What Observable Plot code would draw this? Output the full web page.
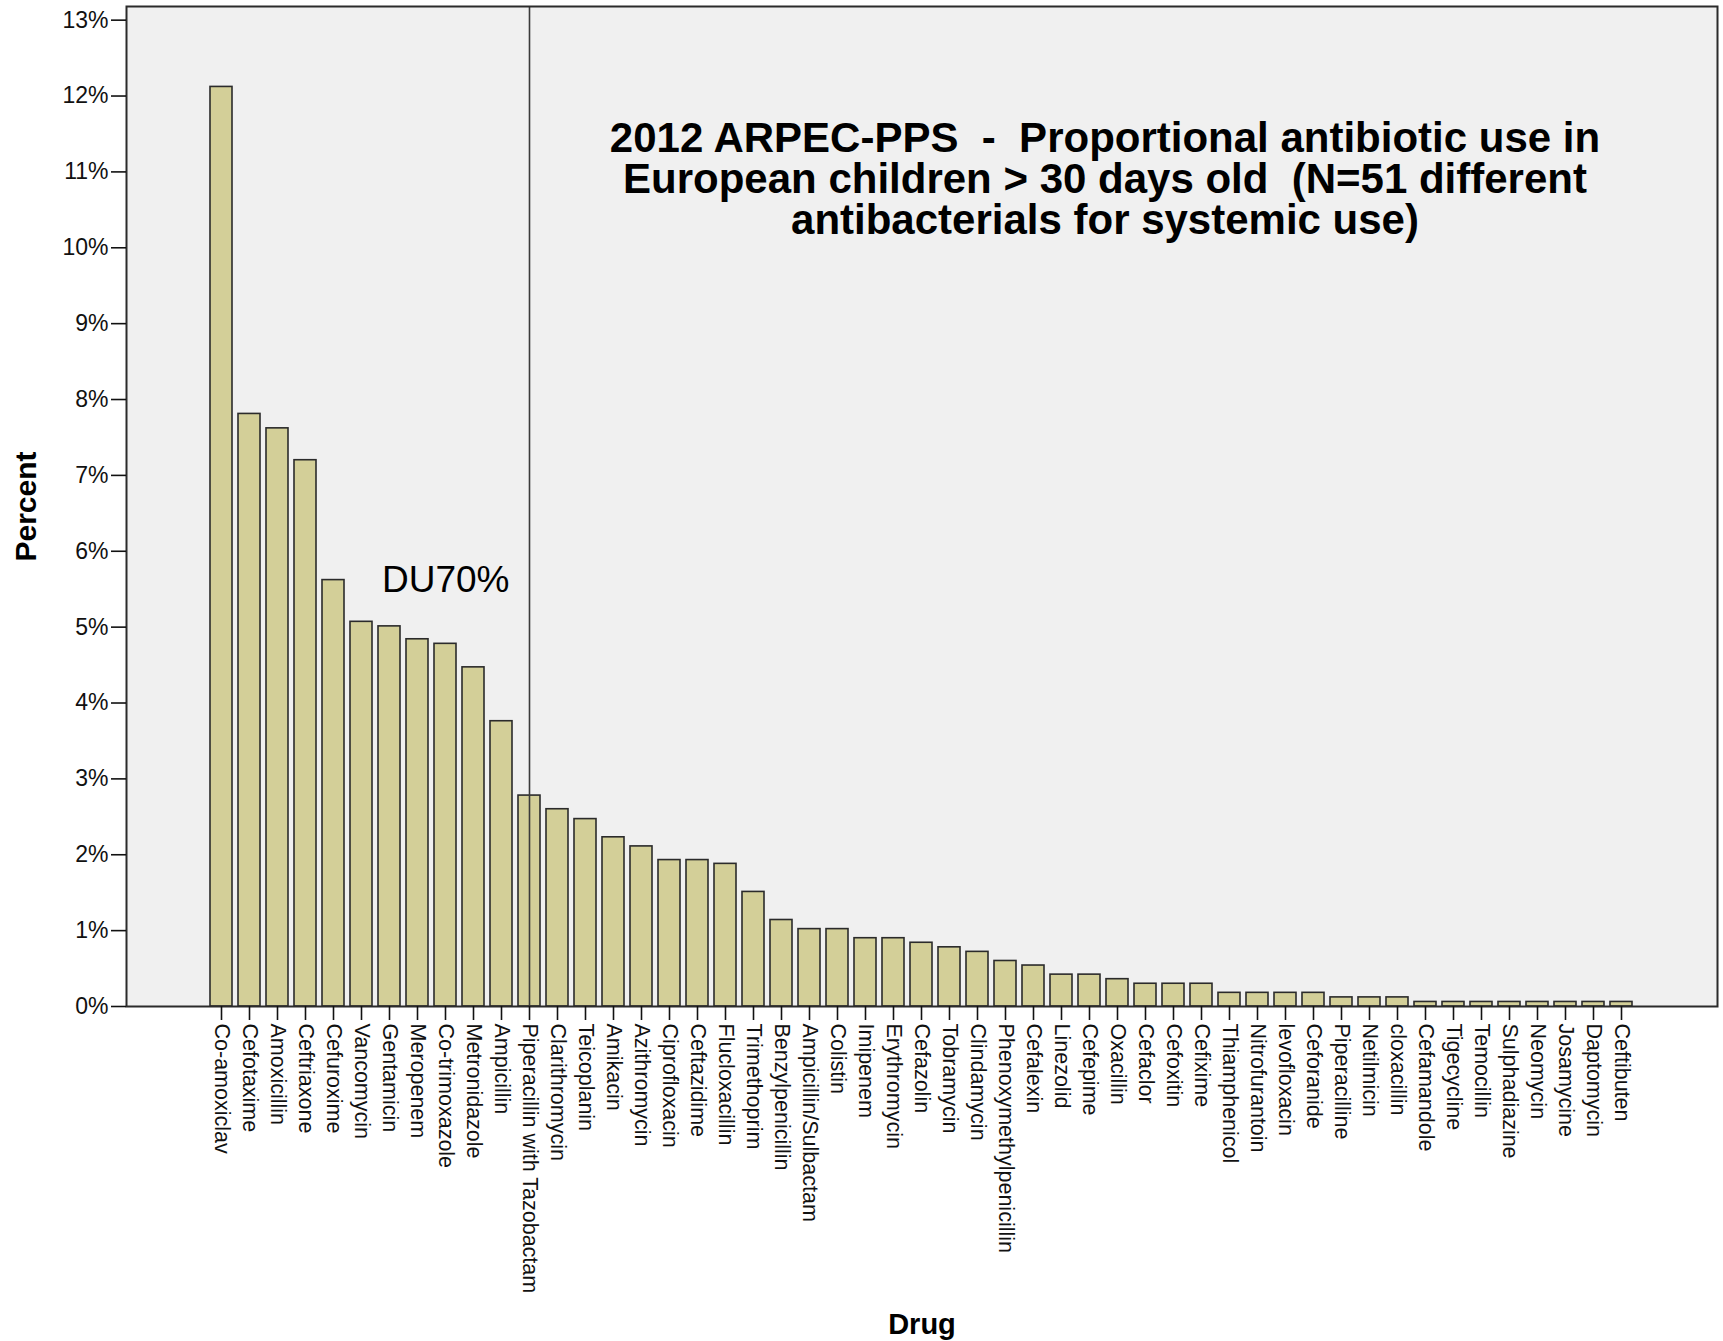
<!DOCTYPE html>
<html>
<head>
<meta charset="utf-8">
<script src="https://cdn.jsdelivr.net/npm/d3@7"></script>
<script src="https://cdn.jsdelivr.net/npm/@observablehq/plot@0.6"></script>
<style>
  html, body { margin: 0; padding: 0; background: #ffffff; }
  #chart { width: 1723px; height: 1341px; }
</style>
</head>
<body>
<div id="chart"></div>
<script>
// Drug names (x categories), in chart order
const drugs = [
  "Co-amoxiclav", "Cefotaxime", "Amoxicillin", "Ceftriaxone", "Cefuroxime",
  "Vancomycin", "Gentamicin", "Meropenem", "Co-trimoxazole", "Metronidazole",
  "Ampicillin", "Piperacillin with Tazobactam", "Clarithromycin", "Teicoplanin", "Amikacin",
  "Azithromycin", "Ciprofloxacin", "Ceftazidime", "Flucloxacillin", "Trimethoprim",
  "Benzylpenicillin", "Ampicillin/Sulbactam", "Colistin", "Imipenem", "Erythromycin",
  "Cefazolin", "Tobramycin", "Clindamycin", "Phenoxymethylpenicillin", "Cefalexin",
  "Linezolid", "Cefepime", "Oxacillin", "Cefaclor", "Cefoxitin",
  "Cefixime", "Thiamphenicol", "Nitrofurantoin", "levofloxacin", "Ceforanide",
  "Piperacilline", "Netilmicin", "cloxacillin", "Cefamandole", "Tigecycline",
  "Temocillin", "Sulphadiazine", "Neomycin", "Josamycine", "Daptomycin",
  "Ceftibuten"
];

// Percent of all antibiotic prescriptions
const percents = [
  12.12, 7.81, 7.62, 7.20, 5.62,
  5.07, 5.01, 4.84, 4.78, 4.47,
  3.76, 2.78, 2.60, 2.47, 2.23,
  2.11, 1.93, 1.93, 1.88, 1.51,
  1.14, 1.02, 1.02, 0.90, 0.90,
  0.84, 0.78, 0.72, 0.60, 0.54,
  0.42, 0.42, 0.36, 0.30, 0.30,
  0.30, 0.18, 0.18, 0.18, 0.18,
  0.12, 0.12, 0.12, 0.06, 0.06,
  0.06, 0.06, 0.06, 0.06, 0.06,
  0.06
];

// Y axis tick values (percent)
const yTicks = [0, 1, 2, 3, 4, 5, 6, 7, 8, 9, 10, 11, 12, 13];

// Drug at which the DU70% cut-off line is drawn
const du70Drug = "Piperacillin with Tazobactam";
const du70Label = "DU70%";

const titleText = "2012 ARPEC-PPS  -  Proportional antibiotic use in\nEuropean children > 30 days old  (N=51 different\nantibacterials for systemic use)";
const xLabel = "Drug";
const yLabel = "Percent";

const data = drugs.map((d, i) => ({drug: d, pct: percents[i]}));

const chart = Plot.plot({
  width: 1723,
  height: 1341,
  marginLeft: 126,
  marginRight: 6,
  marginTop: 6,
  marginBottom: 335,
  style: {fontFamily: "'Liberation Sans', Arial, sans-serif", background: "#ffffff", color: "#111"},
  x: {domain: drugs, paddingInner: 0.21, paddingOuter: 2.92},
  y: {domain: [0, 13.18]},
  marks: [
    Plot.frame({fill: "#f0f0f0", stroke: null}),
    Plot.barY(data, {x: "drug", y: "pct", fill: "#d3cf98", stroke: "#2b2b2b", strokeWidth: 1.6}),
    Plot.ruleX([du70Drug], {stroke: "#3a3a3a", strokeWidth: 1.6}),
    Plot.frame({stroke: "#2b2b2b", strokeWidth: 2}),
    Plot.axisY({ticks: yTicks, tickFormat: d => d + "%", tickSize: 15, tickPadding: 3, fontSize: 23, strokeWidth: 1.6, label: null}),
    Plot.axisX({tickSize: 14, tickPadding: 3, tickRotate: 90, fontSize: 21.5, strokeWidth: 1.6, label: null}),
    Plot.text([du70Label], {x: [du70Drug], frameAnchor: "top", dy: 574, dx: -20, textAnchor: "end", lineAnchor: "middle", fontSize: 37, fill: "#000"}),
    Plot.text([titleText], {frameAnchor: "top", dx: 183, dy: 173, textAnchor: "middle", lineAnchor: "middle", lineHeight: 0.98, fontSize: 42, fontWeight: "bold", fill: "#000"}),
    Plot.text([yLabel], {frameAnchor: "left", dx: -100, rotate: -90, textAnchor: "middle", fontSize: 30, fontWeight: "bold", fill: "#000"}),
    Plot.text([xLabel], {frameAnchor: "bottom", dy: 318, textAnchor: "middle", lineAnchor: "middle", fontSize: 29, fontWeight: "bold", fill: "#000"})
  ]
});

document.getElementById("chart").appendChild(chart);
</script>
</body>
</html>
